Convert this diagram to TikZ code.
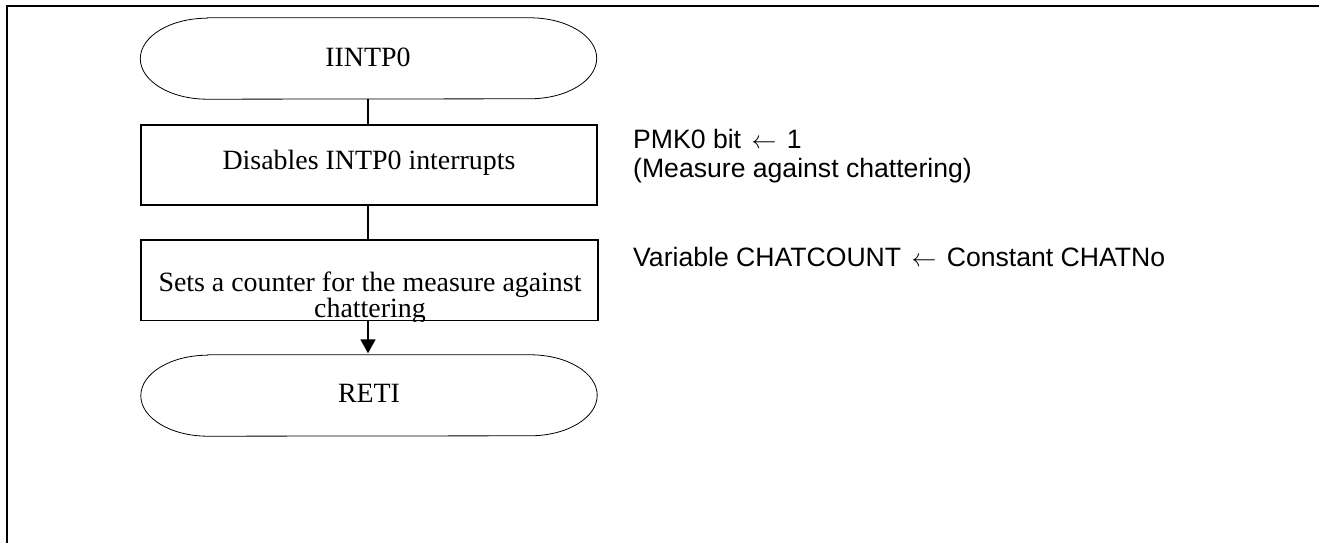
\documentclass[tikz,border=0pt]{standalone}
\usepackage{fontspec}
\setmainfont{Liberation Serif}
\newfontfamily\arialfont{Liberation Sans}
\usetikzlibrary{arrows.meta}
\tikzset{
  shapebox/.style={draw=none, rectangle, inner sep=0pt, minimum width=456pt, minimum height=80pt},
  procbox/.style={draw, line width=1.6pt, rectangle, inner sep=0pt, minimum width=456pt, minimum height=80pt},
  term/.style={line width=0.8pt},
  flow/.style={line width=1.8pt},
  boxtext/.style={inner sep=0pt, font=\fontsize{27.9}{31}\selectfont},
  notetext/.style={inner sep=0pt, anchor=base west, font=\arialfont\fontsize{26.6}{29}\selectfont},
}
\newcommand{\larr}{\kern3pt$\leftarrow$\kern3pt}
\begin{document}
\begin{tikzpicture}[x=1pt,y=1pt]
\useasboundingbox (0,0) rectangle (1319,543);
% frame
\draw[line width=2pt] (6.5,0) -- (6.5,536.5) -- (1319,536.5);
% shapes
\node[shapebox, minimum height=81pt] (t1) at (368.5,484.5) {};
\node[procbox] (b1) at (369,378) {};
\node[procbox, minimum width=457pt, minimum height=80.5pt] (b2) at (369.5,262.7) {};
\node[shapebox, minimum height=81pt] (t2) at (369,147.5) {};
\draw[term] ([xshift=67pt]t1.north west) -- ([xshift=-67pt]t1.north east)
  arc[start angle=90,end angle=-90,x radius=67pt,y radius=40.5pt]
  -- ([xshift=67pt]t1.south west)
  arc[start angle=270,end angle=90,x radius=67pt,y radius=40.5pt] -- cycle;
\draw[term] ([xshift=67pt]t2.north west) -- ([xshift=-67pt]t2.north east)
  arc[start angle=90,end angle=-90,x radius=67pt,y radius=40.5pt]
  -- ([xshift=67pt]t2.south west)
  arc[start angle=270,end angle=90,x radius=67pt,y radius=40.5pt] -- cycle;
% texts
\node[boxtext, anchor=base] (t1txt) at (368,476) {IINTP0};
\node[boxtext, anchor=base] (b1txt) at (369,373) {Disables INTP0 interrupts};
\begin{scope}
\clip (b2.south west) rectangle (b2.north east);
\node[boxtext, anchor=base] (b2txt1) at (370,251) {Sets a counter for the measure against};
\node[boxtext, anchor=base] (b2txt2) at (370,225) {chattering};
\end{scope}
\node[boxtext, anchor=base] (t2txt) at (369,140) {RETI};
% connectors
\coordinate (cx) at (368,0);
\draw[flow] (t1.south -| cx) -- (b1.north -| cx);
\draw[flow] (b1.south -| cx) -- (b2.north -| cx);
\draw[flow, -{Triangle[width=15pt,length=14pt]}, shorten >=1.5pt] (b2.south -| cx) -- (t2.north -| cx);
% notes
\node[notetext] (n1) at (633,394) {PMK0 bit \larr{} 1};
\node[notetext] (n2) at (633,365) {(Measure against chattering)};
\node[notetext] (n3) at (633,276.5) {Variable CHATCOUNT \larr{} Constant CHATNo};
\end{tikzpicture}
\end{document}
